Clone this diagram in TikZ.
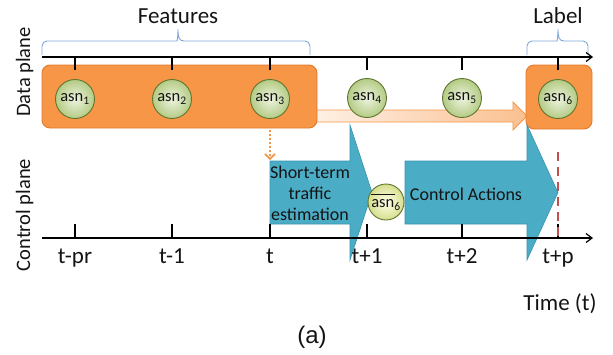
\documentclass[tikz,border=0pt]{standalone}
\usepackage{fontspec}
\setmainfont{Carlito}
\newfontfamily\arialf{Liberation Sans}
\usetikzlibrary{arrows.meta}
\definecolor{orng}{HTML}{F79646}
\definecolor{orngdark}{HTML}{E3792C}
\definecolor{bluef}{HTML}{4BACC6}
\definecolor{blued}{HTML}{3A93AD}
\definecolor{bracec}{HTML}{7FA7D8}
\definecolor{greenin}{HTML}{EEF4E0}
\definecolor{greenout}{HTML}{B4CB84}
\definecolor{greend}{HTML}{5F7530}
\definecolor{redd}{HTML}{C0504D}
\definecolor{txt}{HTML}{141414}
\begin{document}
\begin{tikzpicture}[x=1pt,y=-1pt,
  every node/.style={text=txt},
  asnnode/.style={circle, minimum size=39pt, inner sep=0pt, draw=greend, line width=0.9pt,
    inner color=greenin, outer color=greenout, font=\fontsize{16.5}{18}\selectfont},
  barnode/.style={asnnode, minimum size=36pt, inner color=yellow!8!white, outer color={rgb,255:red,214;green,222;blue,140}},
  axisline/.style={line width=1.4pt, -{Straight Barb[length=6pt,width=9pt,line width=1.2pt]}},
  tickmark/.style={line width=1.4pt},
  ticklab/.style={anchor=base, font=\fontsize{23}{26}\selectfont},
  bigtext/.style={anchor=base, font=\fontsize{23}{26}\selectfont},
  planelab/.style={anchor=base, rotate=90, font=\fontsize{20.5}{24}\selectfont},
  orangebox/.style={fill=orng, draw=orngdark, line width=0.9pt, rounded corners=8pt},
  bluearrow/.style={fill=bluef, draw=blued, line width=0.6pt},
  bracestyle/.style={draw=bracec, line width=0.9pt, rounded corners=5pt},
  ]
\useasboundingbox (0,0) rectangle (613,354);

% labels
\node[bigtext] (feat) at (178,23) {Features};
\node[bigtext] (lab) at (558,23) {Label};
\node[planelab] (dp) at (30,72) {Data plane};
\node[planelab] (cp) at (30,215) {Control plane};

% braces
\draw[bracestyle] (42,55) -- (42,41) -- (172,41) [sharp corners] .. controls (177,41) and (178,37) .. (178,29)
  .. controls (178,37) and (179,41) .. (184,41) [rounded corners=5pt] -- (310,41) -- (310,55);
\draw[bracestyle] (527,55) -- (527,41) -- (552,41) [sharp corners] .. controls (557,41) and (558,37) .. (558,29)
  .. controls (558,37) and (559,41) .. (564,41) [rounded corners=5pt] -- (588,41) -- (588,55);

% gradient arrow
\draw[draw=orng, line width=0.9pt, left color=orng!12!white, right color=orng!60!white]
  (305,110) -- (513,110) -- (513,102) -- (527,116) -- (513,130) -- (513,122) -- (305,122) -- cycle;

% orange boxes
\node[orangebox, minimum width=275pt, minimum height=63pt, inner sep=0pt] (bigbox) at (179.5,96.5) {};
\node[orangebox, minimum width=66pt, minimum height=64pt, inner sep=0pt] (smallbox) at (559,97) {};

% top axis
\coordinate (ta0) at (42,57);
\coordinate (ta1) at (593,57);
\draw[axisline] (ta0) -- (ta1);
\foreach \x in {75,172,270,367,462,558} \draw[tickmark] (\x,57) -- (\x,70);

% circles
\node[asnnode] (a1) at (75,99) {asn\textsubscript{1}};
\node[asnnode] (a2) at (172,99) {asn\textsubscript{2}};
\node[asnnode] (a3) at (270,99) {asn\textsubscript{3}};
\node[asnnode] (a4) at (367,98) {asn\textsubscript{4}};
\node[asnnode] (a5) at (462,98) {asn\textsubscript{5}};
\node[asnnode] (a6) at (558,99) {asn\textsubscript{6}};

% blue arrows
\draw[bluearrow] (270,161) -- (350,161) -- (350,125) -- (372,192.5) -- (350,260) -- (350,224) -- (270,224) -- cycle;
\node[align=center, font=\fontsize{18}{21}\selectfont] (est) at (310,193) {Short-term\\traffic\\estimation};
\draw[bluearrow] (405,161) -- (527,161) -- (527,125) -- (558,192.5) -- (527,260) -- (527,224) -- (405,224) -- cycle;
\node[font=\fontsize{18}{21}\selectfont] (ctrl) at (466,194) {Control Actions};

% asn6 bar
\node[barnode] (ab) at (386,202) {\makebox[0pt][l]{\rule[12.5pt]{24pt}{1.3pt}}asn\textsubscript{6}};

% dotted arrow
\coordinate (d0) at (270,130);
\coordinate (d1) at (270,160);
\draw[orng, line width=2.2pt, dash pattern=on 2pt off 2pt, -{Straight Barb[length=5pt,width=10pt,line width=1.6pt]}] (d0) -- (d1);

% bottom axis
\coordinate (ba0) at (42,238);
\coordinate (ba1) at (593,238);
\draw[axisline] (ba0) -- (ba1);
\foreach \x in {75,172,270,367,462,558} \draw[tickmark] (\x,224) -- (\x,238);

% red dashed
\coordinate (r0) at (558,152);
\coordinate (r1) at (558,238);
\draw[redd, line width=2.5pt, dash pattern=on 9pt off 6pt] (r0) -- (r1);

% tick labels
\node[ticklab] (l1) at (75,263) {t-pr};
\node[ticklab] (l2) at (172,263) {t-1};
\node[ticklab] (l3) at (270,263) {t};
\node[ticklab] (l4) at (367,263) {t+1};
\node[ticklab] (l5) at (462,263) {t+2};
\node[ticklab] (l6) at (558,263) {t+p};

\node[bigtext] (time) at (560,310) {Time (t)};
\node[anchor=base, font=\arialf\fontsize{24}{28}\selectfont] (cap) at (312,343) {(a)};
\end{tikzpicture}
\end{document}
